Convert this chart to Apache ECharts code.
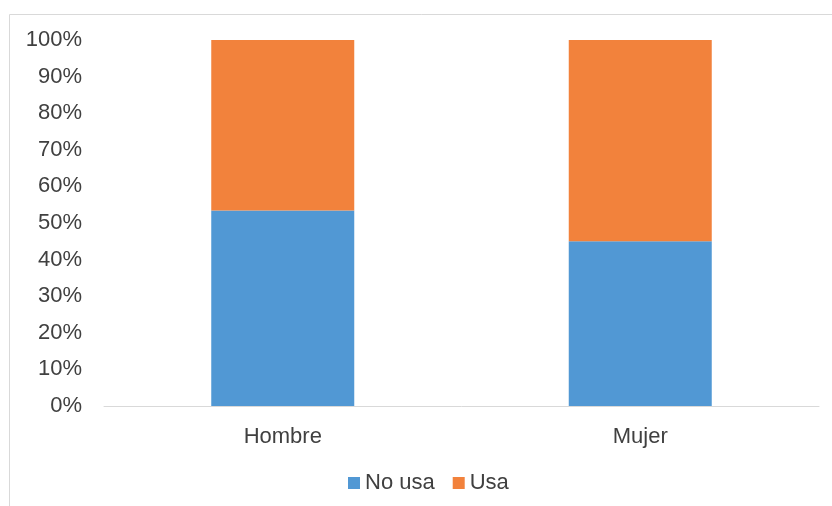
<!DOCTYPE html>
<html>
<head>
<meta charset="utf-8">
<script src="https://cdn.jsdelivr.net/npm/echarts@6/dist/echarts.min.js"></script>
<style>
  html, body { margin: 0; padding: 0; background: #fff; }
  #chart { width: 832px; height: 506px; }
</style>
</head>
<body>
<div id="chart"></div>
<script>
// categorias y valores (porcentaje)
var categorias = ['Hombre', 'Mujer'];
var noUsa = [53.4, 45.0];
var usa = [46.6, 55.0];
var ticksY = [0, 10, 20, 30, 40, 50, 60, 70, 80, 90, 100];

var chart = echarts.init(document.getElementById('chart'));

var option = {
    animation: false,
    textStyle: { fontFamily: 'Liberation Sans, Arial, sans-serif' },
    graphic: [{
        type: 'rect',
        shape: { x: 9.5, y: 14.5, width: 840, height: 520 },
        style: { fill: 'none', stroke: '#d9d9d9', lineWidth: 1 },
        silent: true
    }],
    grid: {
        left: 104,
        right: 13,
        top: 40,
        bottom: 100
    },
    legend: {
        data: ['No usa', 'Usa'],
        bottom: 7,
        left: 343,
        itemWidth: 12,
        itemHeight: 12,
        itemGap: 18,
        icon: 'rect',
        textStyle: { fontSize: 22, color: '#404040' }
    },
    xAxis: {
        type: 'category',
        data: categorias,
        axisLine: { lineStyle: { color: '#d9d9d9', width: 1 } },
        axisTick: { show: false },
        axisLabel: { fontSize: 22, color: '#404040', margin: 20 }
    },
    yAxis: {
        type: 'value',
        min: ticksY[0],
        max: ticksY[ticksY.length - 1],
        interval: 10,
        splitLine: { show: false },
        axisLine: { show: false },
        axisTick: { show: false },
        axisLabel: {
            fontSize: 22,
            color: '#404040',
            margin: 22,
            formatter: '{value}%'
        }
    },
    series: [
        {
            name: 'No usa',
            type: 'bar',
            stack: 'total',
            barWidth: 143,
            itemStyle: { color: '#5198d4' },
            data: noUsa
        },
        {
            name: 'Usa',
            type: 'bar',
            stack: 'total',
            barWidth: 143,
            itemStyle: { color: '#f2823c' },
            data: usa
        }
    ]
};

chart.setOption(option);
</script>
</body>
</html>
